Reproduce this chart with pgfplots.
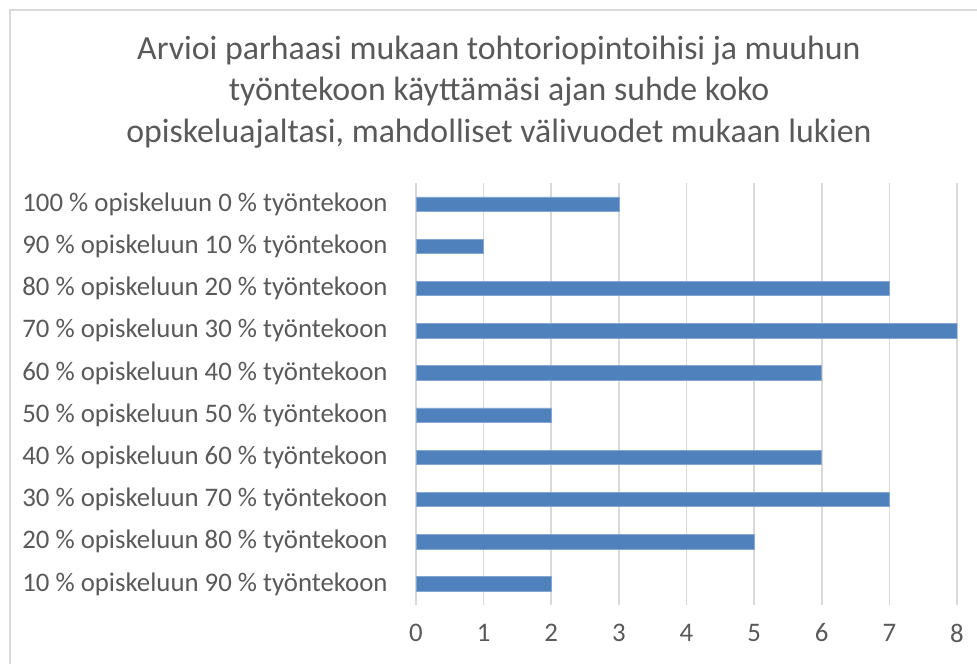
\documentclass[border=0pt]{standalone}
\usepackage{pgfplots}
\pgfplotsset{compat=1.18}
\usepackage{fontspec}
\setmainfont{Carlito}
\definecolor{barblue}{HTML}{4F81BD}
\definecolor{txtgray}{HTML}{595959}
\definecolor{gridgray}{HTML}{D9D9D9}
\begin{document}
\begin{tikzpicture}[x=0.5pt,y=0.5pt]
\path[use as bounding box] (0,0) rectangle (977,664);
\draw[gridgray, line width=1pt] (10,0) -- (10,654) -- (977,654);
\node[align=center, text=txtgray, font=\fontsize{16.9}{20.9}\selectfont] at (499,572)
 {Arvioi parhaasi mukaan tohtoriopintoihisi ja muuhun\\ työntekoon käyttämäsi ajan suhde koko\\ opiskeluajaltasi, mahdolliset välivuodet mukaan lukien};
\begin{axis}[
  at={(208pt,29.5pt)}, anchor=south west,
  scale only axis, width=270.5pt, height=211pt,
  xbar, bar width=7.25pt,
  xmin=0, xmax=8, ymin=-0.5, ymax=9.5,
  xtick={0,...,8}, ytick={0,...,9},
  yticklabels={10 \% opiskeluun 90 \% työntekoon,20 \% opiskeluun 80 \% työntekoon,30 \% opiskeluun 70 \% työntekoon,40 \% opiskeluun 60 \% työntekoon,50 \% opiskeluun 50 \% työntekoon,60 \% opiskeluun 40 \% työntekoon,70 \% opiskeluun 30 \% työntekoon,80 \% opiskeluun 20 \% työntekoon,90 \% opiskeluun 10 \% työntekoon,100 \% opiskeluun 0 \% työntekoon},
  axis line style={draw=none},
  major tick length=0pt,
  xmajorgrids, major grid style={gridgray, line width=0.85pt},
  /pgf/number format/assume math mode=true,
  ticklabel style={text=txtgray, font=\fontsize{13.4}{15}\selectfont},
  yticklabel style={anchor=east, inner sep=0pt, xshift=-14pt},
  xticklabel style={anchor=center, inner sep=0pt, yshift=-14pt},
]
\addplot[fill=barblue, draw=barblue!70!white, line width=0.3pt] coordinates {
(2,0) (5,1) (7,2) (6,3) (2,4) (6,5) (8,6) (7,7) (1,8) (3,9)};
\end{axis}
\end{tikzpicture}
\end{document}
